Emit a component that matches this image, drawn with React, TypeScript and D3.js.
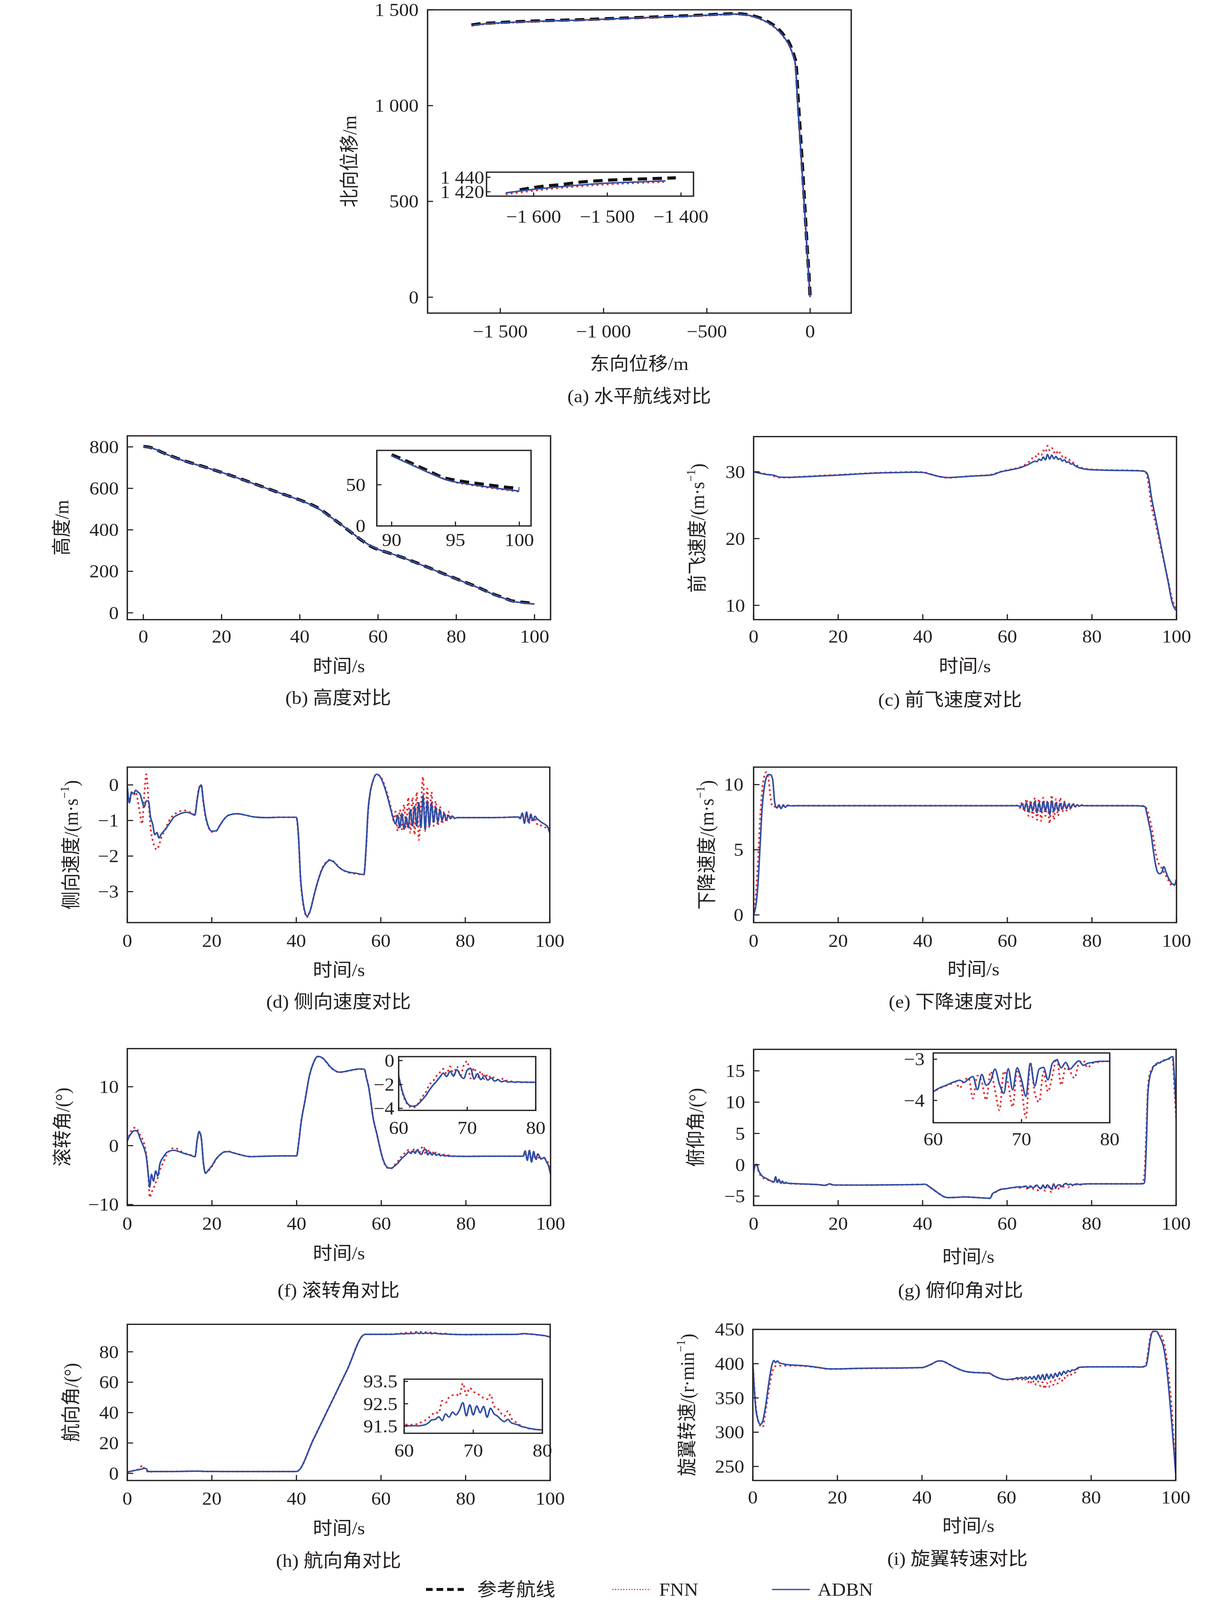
import React from 'react';
import * as d3 from 'd3';

// ---------- data ----------
// (a) horizontal track: east / north displacement (m)
const aEast = [-1638, -1600, -1550, -1500, -1400, -1300, -1200, -1100, -1000, -900, -800, -700, -600, -500, -420, -360, -320, -280, -240, -200, -160, -130, -105, -88, -78, -72, -60, -45, -30, -15, -5, 0];
const aRefEast = [-1640, -1600, -1550, -1500, -1400, -1300, -1200, -1100, -1000, -900, -800, -700, -600, -500, -420, -360, -318, -277, -236, -196, -156, -126, -101, -85, -75, -69, -57, -42, -28, -14, -4, 0];
const aRefNorth = [1421, 1427, 1431, 1434, 1439, 1443, 1446, 1449, 1453, 1457, 1461, 1465, 1469, 1474, 1478, 1480, 1477, 1469, 1455, 1433, 1402, 1366, 1326, 1284, 1250, 1224, 1014, 763, 512, 252, 82, 0];
const aFnnNorth = [1416, 1422, 1427, 1430, 1435, 1439, 1442, 1445, 1449, 1453, 1457, 1461, 1465, 1470, 1474, 1476, 1473, 1465, 1450, 1428, 1396, 1360, 1320, 1278, 1243, 1218, 1008, 758, 508, 248, 78, 0];
const aAdbnNorth = [1418, 1424, 1429, 1432, 1437, 1441, 1444, 1447, 1451, 1455, 1459, 1463, 1467, 1472, 1476, 1478, 1475, 1467, 1452, 1430, 1398, 1362, 1322, 1280, 1245, 1220, 1010, 760, 510, 250, 80, 0];
// (a) inset
const aInRefEast = [-1619, -1592, -1562, -1535, -1505, -1477, -1448, -1407];
const aInRefNorth = [1422.7, 1427, 1430, 1433.5, 1435.6, 1437, 1437.8, 1439.2];
const aInFnnEast = [-1638, -1599, -1553, -1507, -1461, -1423];
const aInFnnNorth = [1416.5, 1421.5, 1426.3, 1429.8, 1432, 1433.5];
const aInAdbnEast = [-1638, -1599, -1553, -1507, -1461, -1421];
const aInAdbnNorth = [1418.4, 1423.5, 1428, 1431.5, 1433.5, 1435];

// (b) altitude (m)
const tB = [0, 1, 2, 3, 5, 7.5, 10, 15, 20, 25, 30, 35, 40, 42, 44, 46, 48, 50, 52, 54, 56, 58, 60, 62.5, 65, 70, 75, 80, 85, 90, 91, 92, 93, 94, 94.5, 95, 96, 97, 98, 99, 100];
const refB = [802, 800, 796, 789, 772, 753, 736, 707, 677, 645, 611, 577, 544, 529, 512, 489, 461, 433, 404, 375, 347, 322, 305, 290, 275, 240, 202, 164, 127, 86.5, 80, 73, 66, 59, 57, 55.5, 53, 51, 49, 47, 45.5];
const fnnB = [801, 799, 795, 788, 771, 752, 735, 706, 677, 644, 610, 577, 543, 528, 510, 487, 460, 433, 405, 376, 348, 324, 306, 290, 275, 239, 201, 163, 126, 85.5, 78.5, 71.5, 64.5, 58, 55.2, 52.8, 50.2, 47.8, 45.5, 43.5, 41.5];
const adbnB = [800, 799, 795, 789, 772, 752, 735, 706, 677, 644, 610, 577, 543, 528, 510, 487, 460, 433, 405, 376, 348, 324, 306, 290, 275, 239, 201, 163, 126, 85, 78, 71, 64, 57.5, 55, 53.3, 50.8, 48.5, 46.3, 44.2, 42.3];

// (c) forward speed (m/s)
const tC = [0, 1, 2, 3, 4, 5, 6, 8, 10, 15, 20, 25, 30, 35, 38, 40, 42, 44, 46, 48, 50, 53, 56, 57, 58, 60, 62, 63, 64, 65, 65.5, 66, 66.5, 67, 67.5, 68, 68.5, 69, 69.5, 70, 70.5, 71, 71.5, 72, 72.5, 73, 73.5, 74, 74.5, 75, 75.5, 76, 77, 78, 80, 85, 90, 92, 92.5, 93, 93.5, 94, 95, 96, 97, 98, 99, 100];
const fnnC = [30.0, 29.9, 29.8, 29.65, 29.5, 29.3, 29.15, 29.15, 29.22, 29.4, 29.55, 29.72, 29.87, 29.95, 29.98, 29.95, 29.62, 29.25, 29.1, 29.18, 29.3, 29.42, 29.55, 29.7, 29.95, 30.25, 30.5, 30.7, 31.0, 31.4, 31.8, 32.1, 32.4, 32.2, 32.8, 32.5, 33.2, 32.9, 33.9, 33.2, 33.6, 32.9, 33.2, 32.6, 32.9, 32.3, 32.4, 31.9, 31.9, 31.5, 31.4, 31.1, 30.8, 30.5, 30.35, 30.25, 30.2, 30.15, 30.1, 29.5, 27.6, 25.2, 22.4, 19.5, 16.6, 13.8, 10.9, 9.4];
const adbnC = [30.0, 29.85, 29.72, 29.6, 29.55, 29.45, 29.2, 29.17, 29.2, 29.35, 29.5, 29.68, 29.83, 29.9, 29.94, 29.9, 29.6, 29.28, 29.14, 29.2, 29.28, 29.4, 29.5, 29.65, 29.9, 30.2, 30.45, 30.6, 30.85, 31.1, 31.3, 31.45, 31.6, 31.5, 31.9, 31.7, 32.2, 31.8, 32.6, 31.9, 32.5, 31.95, 32.3, 31.85, 32.0, 31.6, 31.8, 31.4, 31.5, 31.15, 31.2, 30.9, 30.6, 30.45, 30.3, 30.22, 30.17, 30.1, 30.05, 29.8, 28.7, 26.5, 23.2, 20.0, 16.8, 13.6, 10.4, 9.2];

// (d) lateral speed (m/s)
const tD = [0, 0.5, 1, 1.5, 2, 2.5, 3, 3.5, 4, 4.5, 5, 5.5, 6, 6.5, 7, 7.5, 8, 9, 10, 11, 12, 13, 14, 15, 16, 16.5, 17, 17.5, 18, 18.5, 19, 20, 21, 22, 23, 24, 26, 28, 30, 33, 36, 40, 40.5, 41, 41.5, 42, 42.5, 43, 43.5, 44, 45, 46, 47, 48, 49, 50, 52, 54, 56, 56.5, 57, 57.5, 58, 59, 60, 61, 62, 62.5, 63, 63.5, 64, 64.5, 65, 65.5, 66, 66.5, 67, 67.5, 68, 68.5, 69, 69.5, 70, 70.5, 71, 71.5, 72, 72.5, 73, 73.5, 74, 74.5, 75, 75.5, 76, 76.5, 77, 77.5, 78, 80, 85, 90, 92.5, 93, 93.5, 94, 94.5, 95, 95.5, 96, 96.5, 97, 97.5, 98, 99, 99.5, 100];
const fnnD = [-0.1, -0.45, -0.25, -0.3, -0.2, -0.45, -0.8, -1.1, -0.3, 0.3, -0.4, -1.2, -1.55, -1.75, -1.82, -1.7, -1.5, -1.25, -0.98, -0.84, -0.77, -0.72, -0.72, -0.78, -0.83, -0.42, -0.08, 0.0, -0.5, -0.9, -1.12, -1.32, -1.3, -1.12, -0.95, -0.85, -0.81, -0.85, -0.9, -0.92, -0.91, -0.91, -1.45, -2.65, -3.25, -3.58, -3.72, -3.63, -3.45, -3.2, -2.75, -2.38, -2.18, -2.1, -2.17, -2.3, -2.45, -2.5, -2.52, -1.85, -0.75, -0.22, 0.05, 0.3, 0.22, -0.05, -0.45, -0.7, -1.0, -0.75, -1.3, -0.7, -1.25, -0.55, -1.2, -0.35, -1.35, -0.35, -1.4, -0.2, -1.55, -0.6, 0.23, -1.3, -0.1, -1.2, -0.2, -1.15, -0.45, -1.15, -0.6, -1.1, -0.75, -1.05, -0.75, -0.95, -0.85, -0.95, -0.92, -0.92, -0.92, -0.91, -0.9, -0.92, -0.85, -1.0, -0.82, -1.1, -0.9, -1.05, -0.92, -1.1, -1.08, -1.15, -1.2, -1.25, -1.3];
const adbnD = [-0.05, -0.5, -0.2, -0.25, -0.15, -0.2, -0.25, -0.45, -0.62, -0.45, -0.45, -0.9, -1.1, -1.4, -1.34, -1.49, -1.39, -1.25, -1.08, -0.91, -0.84, -0.79, -0.77, -0.8, -0.85, -0.45, -0.1, 0.0, -0.45, -0.85, -1.1, -1.3, -1.29, -1.12, -0.95, -0.85, -0.81, -0.85, -0.9, -0.92, -0.91, -0.91, -1.39, -2.6, -3.2, -3.55, -3.69, -3.62, -3.45, -3.2, -2.75, -2.4, -2.2, -2.12, -2.18, -2.31, -2.44, -2.48, -2.52, -1.8, -0.7, -0.2, 0.06, 0.3, 0.2, -0.1, -0.52, -0.75, -0.96, -1.1, -0.85, -1.2, -0.8, -1.25, -0.9, -1.2, -0.7, -1.15, -0.6, -1.15, -0.5, -1.2, -0.3, -1.25, -0.45, -1.15, -0.5, -1.05, -0.62, -1.05, -0.7, -1.0, -0.8, -0.98, -0.85, -0.95, -0.88, -0.94, -0.92, -0.92, -0.92, -0.91, -0.9, -0.95, -0.79, -1.08, -0.76, -1.05, -0.82, -1.0, -0.88, -0.95, -1.0, -1.05, -1.12, -1.18, -1.35];

// (e) descent speed (m/s)
const tE = [0, 0.5, 1, 1.5, 2, 2.5, 3, 3.5, 4, 4.5, 5, 5.5, 6, 6.5, 7, 7.5, 8, 9, 10, 20, 30, 40, 50, 60, 62.5, 63, 63.5, 64, 64.5, 65, 65.5, 66, 66.5, 67, 67.5, 68, 68.5, 69, 69.5, 70, 70.5, 71, 71.5, 72, 72.5, 73, 73.5, 74, 74.5, 75, 75.5, 76, 76.5, 77, 77.5, 78, 80, 90, 92.5, 93, 93.5, 94, 94.5, 95, 95.5, 96, 96.5, 97, 97.5, 98, 98.5, 99, 99.5, 100];
const fnnE = [0.05, 1.4, 4.0, 7.2, 9.5, 10.6, 10.95, 10.5, 9.0, 8.3, 8.3, 8.4, 8.3, 8.4, 8.35, 8.4, 8.38, 8.38, 8.38, 8.38, 8.38, 8.38, 8.38, 8.38, 8.4, 8.2, 8.7, 7.9, 8.9, 7.6, 8.8, 7.5, 9.0, 7.3, 8.9, 7.2, 9.0, 7.6, 8.8, 7.0, 9.2, 7.3, 8.9, 7.6, 9.0, 7.9, 8.7, 8.0, 8.6, 8.1, 8.6, 8.25, 8.5, 8.3, 8.45, 8.38, 8.38, 8.38, 8.36, 8.1, 7.6, 6.9, 6.0, 4.9, 4.2, 3.8, 3.6, 3.3, 3.0, 2.7, 2.4, 2.2, 2.3, 2.76];
const adbnE = [0, 0.66, 2.24, 5.13, 8.16, 9.74, 10.53, 10.76, 10.76, 10.4, 8.6, 8.2, 8.45, 8.15, 8.45, 8.25, 8.42, 8.36, 8.38, 8.38, 8.38, 8.38, 8.38, 8.38, 8.38, 8.3, 8.5, 8.1, 8.6, 7.9, 8.55, 8.0, 8.7, 7.85, 8.6, 7.9, 8.7, 8.0, 8.65, 7.7, 8.75, 7.95, 8.6, 8.0, 8.55, 8.1, 8.6, 8.15, 8.5, 8.2, 8.5, 8.3, 8.45, 8.35, 8.4, 8.38, 8.38, 8.38, 8.32, 7.76, 7.0, 6.18, 5.0, 3.95, 3.3, 3.16, 3.25, 3.7, 3.3, 2.89, 2.6, 2.37, 2.33, 2.7];

// (f) roll angle (deg)
const tF = [0, 0.5, 1, 1.5, 2, 2.5, 3, 3.5, 4, 4.5, 5, 5.3, 5.7, 6.2, 6.7, 7.2, 7.7, 8.5, 9.5, 11, 12, 13, 15, 16, 16.5, 17, 17.5, 18, 18.5, 19, 20, 21, 22, 23, 24, 25, 27, 29, 32, 36, 40, 40.5, 41, 42, 43, 44, 45, 46, 47, 48, 49, 50, 51, 53, 55, 56, 56.5, 57, 57.5, 58, 59, 60, 60.5, 61, 61.5, 62, 62.5, 63, 63.5, 64, 64.5, 65, 65.5, 66, 66.5, 67, 67.5, 68, 68.5, 69, 69.5, 70, 70.5, 71, 71.5, 72, 72.5, 73, 73.5, 74, 74.5, 75, 75.5, 76, 76.5, 77, 77.5, 78, 78.5, 79, 79.5, 80, 85, 90, 93.5, 94, 94.5, 95, 95.5, 96, 96.5, 97, 97.5, 98, 98.5, 99, 99.5, 100];
const fnnF = [0.8, 1.8, 2.6, 3.0, 3.05, 2.6, 1.8, 1.25, 0.3, -1.5, -5.5, -8.8, -8.0, -7.2, -6.3, -5.45, -4.2, -2.8, -1.3, -0.4, -0.6, -1.1, -1.6, -1.85, 0.8, 2.35, 1.1, -3.1, -4.6, -4.4, -3.5, -2.3, -1.5, -1.05, -1.0, -1.2, -1.6, -1.85, -1.8, -1.75, -1.75, 0.6, 3.7, 7.8, 11.8, 14.1, 15.1, 14.9, 14.2, 13.3, 12.75, 12.45, 12.5, 12.8, 13.0, 12.95, 11.6, 10.1, 7.8, 5.1, 1.9, -1.3, -2.6, -3.4, -3.8, -3.95, -3.85, -3.45, -3.0, -2.6, -2.0, -1.75, -1.3, -1.0, -0.7, -1.1, -0.5, -1.2, -0.5, -1.25, -0.4, -0.05, -1.5, -0.6, -1.45, -0.9, -1.55, -1.15, -1.5, -1.4, -1.6, -1.5, -1.7, -1.65, -1.75, -1.78, -1.8, -1.82, -1.82, -1.82, -1.82, -1.82, -1.8, -1.8, -1.8, -1.2, -2.2, -1.3, -2.4, -1.6, -2.4, -1.8, -2.5, -2.0, -2.1, -2.5, -3.0, -4.6];
const adbnF = [0.82, 1.6, 2.13, 2.5, 2.55, 2.27, 1.25, 0.4, -0.5, -1.9, -5.16, -7.06, -4.87, -6.03, -4.29, -5.16, -3.12, -1.95, -1.08, -0.79, -0.95, -1.22, -1.66, -1.9, 0.9, 2.4, 1.2, -3.0, -4.72, -4.29, -3.41, -2.24, -1.5, -1.05, -1.02, -1.22, -1.6, -1.87, -1.81, -1.75, -1.75, 0.5, 3.59, 7.67, 11.75, 14.08, 15.16, 14.96, 14.23, 13.35, 12.77, 12.48, 12.54, 12.83, 13.03, 12.97, 11.5, 10.0, 7.67, 5.04, 1.84, -1.3, -2.5, -3.3, -3.72, -3.82, -3.78, -3.55, -3.24, -2.9, -2.45, -2.07, -1.75, -1.4, -1.05, -1.34, -0.9, -1.3, -0.76, -1.25, -1.5, -0.8, -0.65, -1.55, -1.1, -1.6, -1.25, -1.64, -1.45, -1.72, -1.6, -1.78, -1.7, -1.8, -1.78, -1.82, -1.78, -1.82, -1.8, -1.82, -1.82, -1.82, -1.8, -1.8, -1.8, -0.9, -2.5, -0.8, -2.8, -1.0, -2.3, -1.4, -2.0, -2.2, -2.0, -2.7, -3.4, -4.9];

// (g) pitch angle (deg)
const tG = [0, 0.3, 0.7, 1.2, 2, 3, 4, 4.8, 5.2, 5.6, 6, 6.4, 6.8, 7.2, 7.6, 8, 10, 15, 17, 18, 19, 25, 30, 40, 40.5, 42, 44, 45, 46, 48, 50, 52, 54, 56, 56.5, 57.5, 58.5, 60, 60.5, 61, 61.5, 62, 62.5, 63, 63.5, 64, 64.5, 65, 65.5, 66, 66.5, 67, 67.5, 68, 68.5, 69, 69.5, 70, 70.5, 71, 71.5, 72, 72.5, 73, 73.5, 74, 74.5, 75, 75.5, 76, 76.5, 77, 77.5, 78, 78.5, 79, 79.5, 80, 85, 90, 92, 92.5, 93, 93.3, 93.8, 94.3, 94.7, 95.3, 95.7, 96, 96.5, 97, 98, 98.7, 99.2, 99.6, 100];
const fnnG = [-1.3, -0.2, 0.0, -1.1, -2.0, -2.3, -2.6, -2.8, -2.4, -2.9, -2.6, -3.0, -2.8, -3.0, -2.9, -3.0, -3.05, -3.16, -3.25, -3.1, -3.22, -3.24, -3.22, -3.13, -3.1, -3.72, -4.7, -5.1, -5.25, -5.2, -5.12, -5.2, -5.28, -5.35, -4.7, -4.3, -3.95, -3.8, -3.73, -3.68, -3.64, -3.6, -3.55, -3.7, -3.52, -3.45, -3.95, -3.4, -3.55, -3.99, -3.3, -3.75, -4.24, -3.29, -3.6, -4.16, -3.25, -3.7, -4.42, -3.08, -3.8, -4.04, -3.3, -3.79, -3.4, -2.98, -3.63, -3.2, -3.3, -3.46, -3.1, -3.03, -3.21, -3.1, -3.08, -3.06, -3.05, -3.05, -3.05, -3.05, -3.0, -1.5, 6.5, 12.0, 14.6, 15.3, 15.9, 16.1, 16.3, 16.2, 16.5, 16.7, 16.8, 17.0, 16.9, 12.0, 7.5];
const adbnG = [-1.23, -0.14, 0.08, -0.96, -1.78, -2.19, -2.55, -2.74, -1.92, -2.83, -2.33, -2.94, -2.61, -2.99, -2.8, -2.94, -3.02, -3.16, -3.29, -3.05, -3.24, -3.24, -3.22, -3.13, -3.1, -3.7, -4.66, -5.08, -5.24, -5.21, -5.13, -5.2, -5.29, -5.35, -4.66, -4.25, -3.92, -3.79, -3.72, -3.67, -3.63, -3.58, -3.54, -3.51, -3.56, -3.48, -3.42, -3.74, -3.37, -3.63, -3.53, -3.24, -3.6, -3.83, -3.23, -3.74, -3.21, -3.5, -3.9, -3.1, -3.65, -3.24, -3.2, -3.5, -3.1, -3.02, -3.21, -3.08, -3.24, -3.13, -3.04, -3.15, -3.1, -3.08, -3.06, -3.05, -3.05, -3.05, -3.05, -3.05, -3.05, -2.88, 4.25, 11.1, 14.13, 15.09, 15.77, 15.97, 16.32, 16.24, 16.46, 16.6, 16.87, 17.15, 17.28, 13.85, 8.92];

// (h) heading angle (deg)
const tH = [0, 1, 2, 3, 3.5, 4, 4.5, 5, 6, 10, 17, 18, 25, 30, 40, 40.3, 44, 48, 52, 56, 56.5, 57, 58, 59, 60, 60.5, 61, 61.5, 62, 62.5, 63, 63.5, 64, 64.5, 65, 65.5, 66, 66.5, 67, 67.5, 68, 68.5, 69, 69.5, 70, 70.5, 71, 71.5, 72, 72.5, 73, 73.5, 74, 74.5, 75, 75.5, 76, 76.5, 77, 77.5, 78, 78.5, 79, 79.5, 80, 85, 90, 92, 94, 95, 96, 97, 98, 99, 100];
const fnnH = [0.86, 1.5, 2.2, 2.9, 5.4, 3.0, 2.0, 0.5, 1.23, 1.23, 1.5, 1.3, 1.23, 1.23, 1.23, 1.5, 22.3, 45.2, 68.2, 91.3, 91.55, 91.5, 91.52, 91.55, 91.57, 91.57, 91.56, 91.6, 91.58, 91.68, 91.75, 91.86, 92.0, 92.12, 92.08, 92.63, 92.55, 92.79, 92.88, 92.92, 92.85, 93.42, 92.88, 93.21, 93.05, 92.95, 92.88, 92.75, 92.7, 92.92, 92.38, 92.3, 92.08, 91.95, 92.17, 91.85, 91.72, 91.6, 91.5, 91.44, 91.4, 91.38, 91.35, 91.34, 91.33, 91.4, 91.45, 91.5, 91.95, 91.7, 91.45, 91.15, 90.85, 90.4, 89.6];
const adbnH = [0.86, 1.48, 2.1, 2.58, 2.9, 3.32, 3.08, 1.23, 1.23, 1.23, 1.48, 1.3, 1.23, 1.23, 1.23, 1.5, 22.3, 45.2, 68.2, 91.3, 91.55, 91.5, 91.52, 91.5, 91.52, 91.52, 91.51, 91.52, 91.51, 91.53, 91.56, 91.64, 91.78, 91.8, 91.92, 91.75, 92.04, 91.9, 92.13, 92.0, 92.21, 92.55, 91.96, 92.45, 92.0, 92.4, 92.1, 92.38, 91.9, 92.3, 92.05, 91.95, 91.8, 91.7, 91.8, 91.65, 91.6, 91.55, 91.48, 91.45, 91.4, 91.38, 91.35, 91.34, 91.33, 91.4, 91.45, 91.5, 91.94, 91.7, 91.5, 91.2, 90.9, 90.46, 89.7];

// (i) rotor speed (r/min)
const tI = [0, 0.3, 0.7, 1.2, 1.8, 2.3, 3, 3.8, 4.6, 5, 5.4, 5.8, 6.3, 7, 8, 10, 13, 16, 18, 20, 25, 30, 35, 40, 42, 44, 45, 46, 48, 50, 52, 55, 56, 57, 58, 59, 60, 61, 62, 62.5, 63, 63.5, 64, 64.5, 65, 65.5, 66, 66.5, 67, 67.5, 68, 68.5, 69, 69.5, 70, 70.5, 71, 71.5, 72, 72.5, 73, 73.5, 74, 74.5, 75, 75.5, 76, 76.5, 77, 78, 80, 85, 90, 92, 93, 93.5, 94, 94.5, 95, 95.5, 96, 96.5, 97, 97.5, 98, 98.5, 99, 99.5, 100];
const fnnI = [400, 370, 338, 318, 309, 307, 330, 362, 388, 395, 396.5, 397, 397, 396.8, 397, 397, 396, 393.8, 392.2, 392.2, 393, 393.3, 393.6, 394.2, 398.4, 404, 403.4, 400.3, 393.8, 389, 387.3, 386.6, 386, 382, 379.3, 377.4, 376.6, 376.5, 377, 377.5, 376, 377.5, 374.5, 377, 372.5, 376, 370.5, 375, 369, 374, 367.5, 373, 363.2, 372, 366, 374, 369, 376, 371, 378, 374, 380, 378, 383, 381.5, 386, 386, 390, 393.5, 395, 395.3, 395.3, 395.2, 395, 400, 420, 440, 447, 447, 445.5, 444, 442, 435, 422, 400, 372, 340, 291, 244.5];
const adbnI = [400, 367, 334.5, 318, 311.3, 315.4, 337.3, 372.7, 400, 404.6, 401.4, 404.1, 401, 400, 398.6, 397.8, 396.5, 394, 392.4, 392.4, 393.2, 393.5, 393.7, 394.3, 398.6, 404.1, 403.5, 400.5, 394, 389.1, 387.2, 386.4, 385.8, 382.3, 379.5, 377.6, 376.8, 377.4, 378.2, 379.5, 378.5, 380, 378.6, 380.5, 377.8, 381, 377.5, 381.5, 376.5, 383.5, 377, 384, 376.5, 385, 378, 384.5, 379, 386, 381, 387.5, 383, 389, 385.5, 390, 388, 391, 390.5, 392, 394.5, 395.1, 395.4, 395.4, 395.3, 395.1, 397.3, 413.6, 435.5, 446.4, 447.2, 447, 442.3, 435.5, 427.3, 410.9, 386.4, 353.6, 318.2, 280, 239];

// tick labels
const timeTicks = [0, 20, 40, 60, 80, 100];
const timeTickLabels = ['0', '20', '40', '60', '80', '100'];
const insetTimeTicks = [60, 70, 80];
const insetTimeLabels = ['60', '70', '80'];

// ---------- drawing ----------
const FONT = '"Liberation Serif", "Times New Roman", "Noto Sans CJK SC", serif';
const FS = 50;
const INK = '#231f20';
const BLUE = '#2f4ea5';
const RED = '#e3262d';

type Kind = 'ref' | 'fnn' | 'adbn';
interface Series { x: number[]; y: number[]; kind: Kind }
const STYLE: Record<Kind, { stroke: string; width: number; dash?: string }> = {
  ref: { stroke: '#111', width: 8.5, dash: '24 14' },
  fnn: { stroke: RED, width: 4.5, dash: '5 8' },
  adbn: { stroke: BLUE, width: 4 },
};

interface FrameSpec {
  id: string;
  box: [number, number, number, number];
  xDomain: [number, number];
  yDomain: [number, number];
  xTicks: number[];
  xLabels: string[];
  yTicks: number[];
  yLabels: string[];
  tick: number;
  xLabelGap: number;
  yLabelGap: number;
  fill?: boolean;
}

function Frame({ spec, series }: { spec: FrameSpec; series: Series[] }) {
  const [x0, y0, x1, y1] = spec.box;
  const x = d3.scaleLinear().domain(spec.xDomain).range([x0, x1]);
  const y = d3.scaleLinear().domain(spec.yDomain).range([y1, y0]);
  const line = d3.line<[number, number]>()
    .x((d) => x(d[0]))
    .y((d) => y(d[1]))
    .curve(d3.curveMonotoneX);
  return (
    <g>
      <defs>
        <clipPath id={spec.id}>
          <rect x={x0} y={y0} width={x1 - x0} height={y1 - y0} />
        </clipPath>
      </defs>
      {spec.fill && <rect x={x0} y={y0} width={x1 - x0} height={y1 - y0} fill="#fff" />}
      <g clipPath={`url(#${spec.id})`}>
        {series.map((s, i) => {
          const st = STYLE[s.kind];
          const pts = s.x.map((v, j) => [v, s.y[j]] as [number, number]);
          return (
            <path key={i} d={line(pts) ?? ''} fill="none" stroke={st.stroke}
              strokeWidth={st.width} strokeDasharray={st.dash} strokeLinejoin="round" />
          );
        })}
      </g>
      <rect x={x0} y={y0} width={x1 - x0} height={y1 - y0} fill="none" stroke={INK} strokeWidth={3.5} />
      {spec.xTicks.map((t, i) => (
        <g key={`x${i}`}>
          <line x1={x(t)} x2={x(t)} y1={y1} y2={y1 - spec.tick} stroke={INK} strokeWidth={3} />
          <text x={x(t)} y={y1 + spec.xLabelGap} textAnchor="middle" dominantBaseline="central"
            fontFamily={FONT} fontSize={FS} fill={INK}>{spec.xLabels[i]}</text>
        </g>
      ))}
      {spec.yTicks.map((t, i) => (
        <g key={`y${i}`}>
          <line x1={x0} x2={x0 + spec.tick} y1={y(t)} y2={y(t)} stroke={INK} strokeWidth={3} />
          <text x={x0 - spec.yLabelGap} y={y(t)} textAnchor="end" dominantBaseline="central"
            fontFamily={FONT} fontSize={FS} fill={INK}>{spec.yLabels[i]}</text>
        </g>
      ))}
    </g>
  );
}

function Label({ x, y, children, rotate }: { x: number; y: number; children: React.ReactNode; rotate?: boolean }) {
  return (
    <text transform={`translate(${x},${y})${rotate ? ' rotate(-90)' : ''}`} textAnchor="middle"
      dominantBaseline="central" fontFamily={FONT} fontSize={FS} fill={INK}>{children}</text>
  );
}

const sup = (s: string) => (
  <>
    <tspan dy={-17} fontSize={32}>{s}</tspan>
    <tspan dy={17}>)</tspan>
  </>
);

interface PanelProps {
  spec: FrameSpec;
  series: Series[];
  yTitle: React.ReactNode;
  yTitleX: number;
  xTitle: string;
  xTitleX: number;
  xTitleY: number;
  caption: string;
  captionX: number;
  captionY: number;
  inset?: { spec: FrameSpec; series: Series[] };
}

function Panel(p: PanelProps) {
  const [, y0, , y1] = p.spec.box;
  return (
    <g>
      <Frame spec={p.spec} series={p.series} />
      {p.inset && <Frame spec={p.inset.spec} series={p.inset.series} />}
      <Label x={p.yTitleX} y={(y0 + y1) / 2} rotate>{p.yTitle}</Label>
      <Label x={p.xTitleX} y={p.xTitleY}>{p.xTitle}</Label>
      <Label x={p.captionX} y={p.captionY}>{p.caption}</Label>
    </g>
  );
}

const ts = (t: number[], fnn: number[], adbn: number[], ref?: number[]): Series[] => [
  ...(ref ? [{ x: t, y: ref, kind: 'ref' as Kind }] : []),
  { x: t, y: fnn, kind: 'fnn' },
  { x: t, y: adbn, kind: 'adbn' },
];

const mainSpec = (id: string, box: [number, number, number, number], yDomain: [number, number],
  yTicks: number[], yLabels: string[], xDomain: [number, number] = [0, 100]): FrameSpec => ({
  id, box, xDomain, yDomain, xTicks: timeTicks, xLabels: timeTickLabels, yTicks, yLabels,
  tick: 15, xLabelGap: 48, yLabelGap: 22,
});

export default function App() {
  const seriesA: Series[] = [
    { x: aRefEast, y: aRefNorth, kind: 'ref' },
    { x: aEast, y: aFnnNorth, kind: 'fnn' },
    { x: aEast, y: aAdbnNorth, kind: 'adbn' },
  ];
  const insetSeriesA: Series[] = [
    { x: aInRefEast, y: aInRefNorth, kind: 'ref' },
    { x: aInFnnEast, y: aInFnnNorth, kind: 'fnn' },
    { x: aInAdbnEast, y: aInAdbnNorth, kind: 'adbn' },
  ];
  const from = (t: number[], v: number[], t0: number) => v.filter((_, i) => t[i] >= t0);
  const tB90 = tB.filter((t) => t >= 90);

  // the whole 3150 x 4405 figure is stretched onto the visible window
  return (
    <svg viewBox="0 0 3150 4405" preserveAspectRatio="none"
      style={{ position: 'fixed', left: 0, top: 0, width: '100vw', height: '100vh', background: '#fff', display: 'block' }}>
      <rect width={3150} height={4405} fill="#fff" />

      {/* (a) */}
      <Panel
        spec={{
          id: 'ca', box: [1095, 27, 2180, 862], xDomain: [-1852, 199], yDomain: [-83, 1500],
          xTicks: [-1500, -1000, -500, 0], xLabels: ['−1 500', '−1 000', '−500', '0'],
          yTicks: [0, 500, 1000, 1500], yLabels: ['0', '500', '1 000', '1 500'],
          tick: 14, xLabelGap: 50, yLabelGap: 23,
        }}
        series={seriesA}
        yTitle="北向位移/m" yTitleX={895}
        xTitle="东向位移/m" xTitleX={1637} xTitleY={1001}
        caption="(a) 水平航线对比" captionX={1637} captionY={1091}
        inset={{
          spec: {
            id: 'cai', box: [1246, 474, 1776, 540], xDomain: [-1664, -1383], yDomain: [1414, 1447],
            xTicks: [-1600, -1500, -1400], xLabels: ['−1 600', '−1 500', '−1 400'],
            yTicks: [1420, 1440], yLabels: ['1 420', '1 440'],
            tick: 10, xLabelGap: 56, yLabelGap: 6, fill: true,
          },
          series: insetSeriesA,
        }}
      />

      {/* (b) */}
      <Panel
        spec={{ ...mainSpec('cb', [326, 1200, 1410, 1706], [-33, 853], [0, 200, 400, 600, 800], ['0', '200', '400', '600', '800'], [-4.1, 104.1]), xLabelGap: 46 }}
        series={ts(tB, fnnB, adbnB, refB)}
        yTitle="高度/m" yTitleX={158}
        xTitle="时间/s" xTitleX={868} xTitleY={1834}
        caption="(b) 高度对比" captionX={866} captionY={1921}
        inset={{
          spec: {
            id: 'cbi', box: [965, 1240, 1360, 1448], xDomain: [88.84, 100.92], yDomain: [0, 91.7],
            xTicks: [90, 95, 100], xLabels: ['90', '95', '100'], yTicks: [0, 50], yLabels: ['0', '50'],
            tick: 12, xLabelGap: 38, yLabelGap: 29, fill: true,
          },
          series: ts(tB90, from(tB, fnnB, 90), from(tB, adbnB, 90), from(tB, refB, 90)),
        }}
      />

      {/* (c) */}
      <Panel
        spec={{ ...mainSpec('cc', [1930, 1202, 3013, 1706], [7.86, 35.27], [10, 20, 30], ['10', '20', '30']), xLabelGap: 46 }}
        series={ts(tC, fnnC, adbnC)}
        yTitle={<>前飞速度/(m·s{sup('−1')}</>} yTitleX={1786}
        xTitle="时间/s" xTitleX={2471} xTitleY={1834}
        caption="(c) 前飞速度对比" captionX={2433} captionY={1926}
      />

      {/* (d) */}
      <Panel
        spec={{ ...mainSpec('cd', [326, 2112, 1408, 2540], [-3.87, 0.5], [-3, -2, -1, 0], ['−3', '−2', '−1', '0']), xLabelGap: 50 }}
        series={ts(tD, fnnD, adbnD)}
        yTitle={<>侧向速度/(m·s{sup('−1')}</>} yTitleX={182}
        xTitle="时间/s" xTitleX={868} xTitleY={2670}
        caption="(d) 侧向速度对比" captionX={867} captionY={2758}
      />

      {/* (e) */}
      <Panel
        spec={{ ...mainSpec('ce', [1930, 2112, 3013, 2540], [-0.59, 11.34], [0, 5, 10], ['0', '5', '10']), xLabelGap: 50, yLabelGap: 26 }}
        series={ts(tE, fnnE, adbnE)}
        yTitle={<>下降速度/(m·s{sup('−1')}</>} yTitleX={1810}
        xTitle="时间/s" xTitleX={2493} xTitleY={2668}
        caption="(e) 下降速度对比" captionX={2460} captionY={2758}
      />

      {/* (f) */}
      <Panel
        spec={{ ...mainSpec('cf', [326, 2887, 1410, 3319], [-10.17, 16.47], [-10, 0, 10], ['−10', '0', '10']), xLabelGap: 49 }}
        series={ts(tF, fnnF, adbnF)}
        yTitle="滚转角/(°)" yTitleX={160}
        xTitle="时间/s" xTitleX={868} xTitleY={3450}
        caption="(f) 滚转角对比" captionX={867} captionY={3552}
        inset={{
          spec: {
            id: 'cfi', box: [1021, 2909, 1372, 3057], xDomain: [60, 80], yDomain: [-4.17, 0.33],
            xTicks: insetTimeTicks, xLabels: insetTimeLabels, yTicks: [-4, -2, 0], yLabels: ['−4', '−2', '0'],
            tick: 10, xLabelGap: 48, yLabelGap: 11, fill: true,
          },
          series: ts(tF, fnnF, adbnF),
        }}
      />

      {/* (g) */}
      <Panel
        spec={{ ...mainSpec('cg', [1930, 2889, 3012, 3319], [-6.51, 18.43], [-5, 0, 5, 10, 15], ['−5', '0', '5', '10', '15']), xLabelGap: 49 }}
        series={ts(tG, fnnG, adbnG)}
        yTitle="俯仰角/(°)" yTitleX={1782}
        xTitle="时间/s" xTitleX={2480} xTitleY={3460}
        caption="(g) 俯仰角对比" captionX={2460} captionY={3552}
        inset={{
          spec: {
            id: 'cgi', box: [2390, 2899, 2842, 3091], xDomain: [60, 80], yDomain: [-4.54, -2.85],
            xTicks: insetTimeTicks, xLabels: insetTimeLabels, yTicks: [-4, -3], yLabels: ['−4', '−3'],
            tick: 10, xLabelGap: 45, yLabelGap: 22, fill: true,
          },
          series: ts(tG, fnnG, adbnG),
        }}
      />

      {/* (h) */}
      <Panel
        spec={{ ...mainSpec('ch', [326, 3646, 1409, 4076], [-4.68, 98.1], [0, 20, 40, 60, 80], ['0', '20', '40', '60', '80']), xLabelGap: 49 }}
        series={ts(tH, fnnH, adbnH)}
        yTitle="航向角/(°)" yTitleX={182}
        xTitle="时间/s" xTitleX={868} xTitleY={4207}
        caption="(h) 航向角对比" captionX={867} captionY={4297}
        inset={{
          spec: {
            id: 'chi', box: [1035, 3797, 1389, 3946], xDomain: [60, 80], yDomain: [91.18, 93.6],
            xTicks: insetTimeTicks, xLabels: insetTimeLabels, yTicks: [91.5, 92.5, 93.5], yLabels: ['91.5', '92.5', '93.5'],
            tick: 10, xLabelGap: 47, yLabelGap: 17, fill: true,
          },
          series: ts(tH, fnnH, adbnH),
        }}
      />

      {/* (i) */}
      <Panel
        spec={{ ...mainSpec('ci', [1928, 3660, 3011, 4076], [229.5, 450], [250, 300, 350, 400, 450], ['250', '300', '350', '400', '450']), xLabelGap: 46 }}
        series={ts(tI, fnnI, adbnI)}
        yTitle={<>旋翼转速/(r·min{sup('−1')}</>} yTitleX={1760}
        xTitle="时间/s" xTitleX={2480} xTitleY={4201}
        caption="(i) 旋翼转速对比" captionX={2452} captionY={4291}
      />

      {/* legend */}
      <g fontFamily={FONT} fontSize={FS} fill={INK}>
        <line x1={1091} x2={1188} y1={4376} y2={4376} stroke="#111" strokeWidth={8} strokeDasharray="17 10" />
        <text x={1222} y={4376} dominantBaseline="central">参考航线</text>
        <line x1={1568} x2={1667} y1={4376} y2={4376} stroke={RED} strokeWidth={3} strokeDasharray="3 4" />
        <text x={1688} y={4376} dominantBaseline="central">FNN</text>
        <line x1={1977} x2={2074} y1={4376} y2={4376} stroke={BLUE} strokeWidth={3.5} />
        <text x={2094} y={4376} dominantBaseline="central">ADBN</text>
      </g>
    </svg>
  );
}
